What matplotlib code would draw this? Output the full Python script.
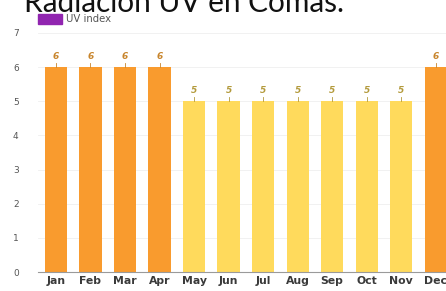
import numpy as np
import matplotlib.pyplot as plt

months = ['Jan', 'Feb', 'Mar', 'Apr', 'May', 'Jun', 'Jul', 'Aug', 'Sep', 'Oct', 'Nov', 'Dec']
uv_index = [6, 6, 6, 6, 5, 5, 5, 5, 5, 5, 5, 6]

orange = '#F99B2E'
yellow = '#FFDA5C'
bar_colors = [orange if v >= 6 else yellow for v in uv_index]
label_colors = ['#C8852C' if v >= 6 else '#B39A3C' for v in uv_index]

fig = plt.figure(figsize=(4.46, 2.91), dpi=100)
ax = fig.add_axes([38 / 446, 19 / 291, 408 / 446, 239 / 291])

x = np.arange(len(months))
ax.bar(x, uv_index, width=0.64, color=bar_colors, zorder=2)

# value labels with a little tick above each bar
for xi, v, c in zip(x, uv_index, label_colors):
    ax.plot([xi, xi], [v, v + 0.12], color=c, lw=0.6, zorder=3)
    ax.text(xi, v + 0.32, str(v), ha='center', va='center', fontsize=6.5,
            fontweight='bold', fontstyle='italic', color=c)

ax.set_xlim(-0.52, 11.3)
ax.set_ylim(0, 7)
ax.set_yticks(range(0, 8))
ax.set_xticks(x)
ax.set_xticklabels(months, fontsize=7.8, fontweight='bold', color='#3a3a3a')
ax.tick_params(axis='y', labelsize=6.5, colors='#555555', length=0, pad=16)
ax.tick_params(axis='x', length=0, pad=3)
for lab in ax.get_yticklabels():
    lab.set_horizontalalignment('center')
ax.grid(axis='y', color='#efefef', lw=0.6, zorder=0)
for s in ['top', 'right', 'left']:
    ax.spines[s].set_visible(False)
ax.spines['bottom'].set_color('#9a9a9a')
ax.spines['bottom'].set_linewidth(0.8)

# legend
fig.patches.append(plt.Rectangle((38 / 446, 1 - 24 / 291), 24 / 446, 10 / 291,
                                 transform=fig.transFigure, color='#9125B0'))
fig.text(66 / 446, 1 - 19 / 291, 'UV index', fontsize=7.3, color='#555555', va='center')

# title (partly cut off at the top)
fig.text(24 / 446, 1 - 12 / 291, 'Radiación UV en Comas.', fontsize=21.4,
         family='Lato', color='#111111', va='baseline')

fig.savefig('out.png', dpi=100)
